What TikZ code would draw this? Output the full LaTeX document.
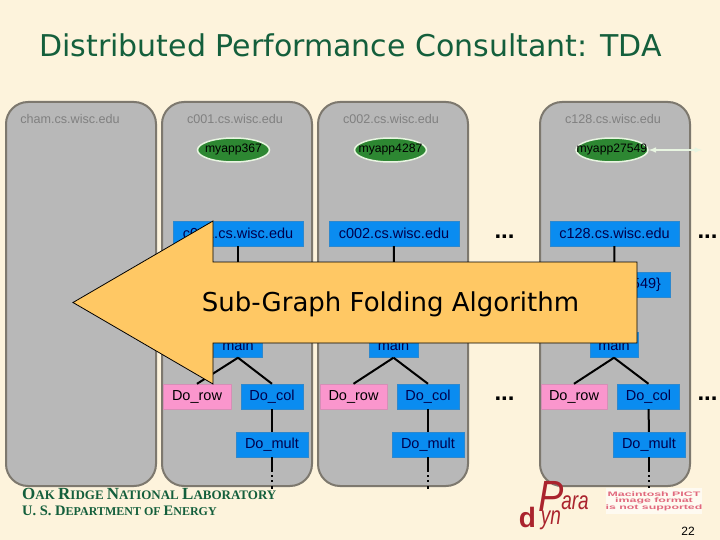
\documentclass[tikz,border=0pt]{standalone}
\usepackage{fontspec}
\setmainfont{Liberation Sans}
\newfontfamily\titlefont{DejaVu Sans}
\newfontfamily\labfont{Liberation Serif}
\usepackage{xcolor}
\usetikzlibrary{arrows}
\usetikzlibrary{math}
\usetikzlibrary{shapes.geometric}
\definecolor{qpaper}{RGB}{253,243,220}
\definecolor{qpanel}{RGB}{184,184,184}
\definecolor{qedge}{RGB}{125,120,110}
\definecolor{qblue}{RGB}{10,140,240}
\definecolor{qpink}{RGB}{250,150,205}
\definecolor{qgreen}{RGB}{45,135,50}
\definecolor{qpale}{RGB}{232,245,225}
\definecolor{qorange}{RGB}{255,200,100}
\definecolor{qlab}{RGB}{20,95,60}
\definecolor{qlogo}{RGB}{170,35,45}
\definecolor{qpict}{RGB}{225,105,125}
\tikzset{
panelbox/.style={draw=qedge, fill=qpanel, line width=2pt, rounded corners=22pt},
hostname/.style={text=gray, font=\fontsize{12.6}{13}\selectfont},
procoval/.style={ellipse, draw=qpale, fill=qgreen, line width=1.5pt, minimum width=72pt, minimum height=24pt, inner sep=0pt, font=\fontsize{12.2}{13}\selectfont},
funcbox/.style={fill=qblue, draw=qblue!70!gray, inner sep=0pt, minimum height=25pt, text=blue!30!black, font=\fontsize{14.5}{15}\selectfont},
rowbox/.style={fill=qpink, draw=qpink!70!gray, inner sep=0pt, minimum height=25pt, text=black, font=\fontsize{14.5}{15}\selectfont},
link/.style={line width=2pt},
moredots/.style={anchor=base, font=\bfseries\fontsize{24}{24}\selectfont},
labtext/.style={text=qlab, anchor=west, inner sep=0pt, font=\labfont\bfseries},
logotext/.style={text=qlogo, inner sep=0pt, font=\itshape},
}
\begin{document}
\begin{tikzpicture}[x=1pt,y=-1pt]
\tikzmath{
\T=102; \B=486;
\H=233.5; \P=150; \M=345; \R=396.5; \U=444.5;
}
\useasboundingbox (0,0) rectangle (720,540);
\fill[qpaper] (0,0) rectangle (720,540);

\node[font=\titlefont\fontsize{30}{30}\selectfont, text=qlab] (title) at (350.5,45) {Distributed Performance Consultant: TDA};

\draw[panelbox] (6,\T) rectangle (156,\B);
\draw[panelbox] (162,\T) rectangle (312,\B);
\draw[panelbox] (318,\T) rectangle (468,\B);
\draw[panelbox] (540,\T) rectangle (690,\B);

\node[hostname] (host0) at (70,119) {cham.cs.wisc.edu};
\node[hostname] (host1) at (235,119) {c001.cs.wisc.edu};
\node[hostname] (host2) at (391,119) {c002.cs.wisc.edu};
\node[hostname] (host3) at (613,119) {c128.cs.wisc.edu};

\node[procoval] (proc1) at (233.5,\P) {\makebox[0pt]{myapp367}};
\node[procoval] (proc2) at (390.5,\P) {\makebox[0pt]{myapp4287}};
\node[procoval] (proc3) at (612,\P) {\makebox[0pt]{myapp27549}};
\coordinate (procend) at (702,\P);
\draw[latex-latex, draw=qpale, line width=1.5pt] (proc3) -- (procend);

\node[funcbox, minimum width=130pt] (mach1) at (238,\H) {c001.cs.wisc.edu};
\node[funcbox, minimum width=130pt] (mach2) at (394,\H) {c002.cs.wisc.edu};
\node[funcbox, minimum width=129pt] (mach3) at (614.5,\H) {c128.cs.wisc.edu};

\node[funcbox, minimum width=50pt, text width=32pt, align=right] (set3) at (645,284.5) {549\}};

\node[funcbox, minimum width=49pt] (main1) at (238,345) {main};
\node[funcbox, minimum width=49pt] (main2) at (393.5,345) {main};
\node[funcbox, minimum width=48pt] (main3) at (614,345) {main};

\node[rowbox, minimum width=68pt] (row1) at (197,\R) {Do\_row};
\node[rowbox, minimum width=67pt] (row2) at (353.5,\R) {Do\_row};
\node[rowbox, minimum width=66pt] (row3) at (574,\R) {Do\_row};
\node[funcbox, minimum width=62pt] (col1) at (272,\R) {Do\_col};
\node[funcbox, minimum width=62pt] (col2) at (428,\R) {Do\_col};
\node[funcbox, minimum width=62pt] (col3) at (648.5,\R) {Do\_col};
\node[funcbox, minimum width=72pt] (mult1) at (272,\U) {Do\_mult};
\node[funcbox, minimum width=72pt] (mult2) at (428,\U) {Do\_mult};
\node[funcbox, minimum width=72pt] (mult3) at (649,\U) {Do\_mult};

\draw[link] (mach1) -- (main1);
\draw[link] (mach2) -- (main2);
\draw[link] (mach3) -- (main3);
\draw[link] (main1.south) -- (row1.north);
\draw[link] (main1.south) -- (col1.north);
\draw[link] (main2.south) -- (row2.north);
\draw[link] (main2.south) -- (col2.north);
\draw[link] (main3.south) -- (row3.north);
\draw[link] (main3.south) -- (col3.north);
\draw[link] (col1) -- (mult1);
\draw[link] (col2) -- (mult2);
\draw[link] (col3) -- (mult3);

\coordinate (tail1) at (272,492);
\coordinate (tail2) at (428,492);
\coordinate (tail3) at (649,492);
\draw[link, dash pattern=on 15pt off 3pt on 2pt off 3pt on 2pt off 4pt on 3pt] (mult1.south) -- (tail1);
\draw[link, dash pattern=on 15pt off 3pt on 2pt off 3pt on 2pt off 4pt on 3pt] (mult2.south) -- (tail2);
\draw[link, dash pattern=on 15pt off 3pt on 2pt off 3pt on 2pt off 4pt on 3pt] (mult3.south) -- (tail3);

\node[moredots] (more1) at (504.5,238.5) {...};
\node[moredots] (more2) at (707.5,238.5) {...};
\node[moredots] (more3) at (504.5,400.5) {...};
\node[moredots] (more4) at (707.5,400.5) {...};

% the big arrow lies over the trees
\draw[fill=qorange, draw=black, line width=0.8pt] (73,302.5) -- (213,221) -- (213,262) -- (637,262) -- (637,343) -- (213,343) -- (213,384) -- cycle;
\node[font=\titlefont\fontsize{26}{26}\selectfont] (fold) at (390.5,304) {Sub-Graph Folding Algorithm};

\node[labtext] (lab) at (22,494) {\fontsize{17}{17}\selectfont O\fontsize{13}{13}\selectfont AK \fontsize{17}{17}\selectfont R\fontsize{13}{13}\selectfont IDGE \fontsize{17}{17}\selectfont N\fontsize{13}{13}\selectfont ATIONAL \fontsize{17}{17}\selectfont L\fontsize{13}{13}\selectfont ABORATORY};
\node[labtext] (dept) at (22,511) {\fontsize{14.5}{15}\selectfont U. S. D\fontsize{12}{12}\selectfont EPARTMENT OF \fontsize{14.5}{15}\selectfont E\fontsize{12}{12}\selectfont NERGY};

\node[logotext, font=\itshape\fontsize{38}{38}\selectfont, yscale=1.15, transform shape] (logop) at (551,496) {P};
\node[logotext, font=\itshape\fontsize{19}{19}\selectfont, yscale=1.35, transform shape] (logoara) at (575,503) {ara};
\node[logotext, font=\bfseries\fontsize{28}{28}\selectfont] (logod) at (527.5,517) {d};
\node[logotext, font=\itshape\fontsize{19}{19}\selectfont, yscale=1.35, transform shape] (logoyn) at (551,520) {yn};

\fill[qpaper!40!white] (606,488) rectangle (702,514);
\node[text=qpict, inner sep=0pt, align=center, font=\bfseries\fontsize{6.5}{6}\selectfont, xscale=1.9, transform shape] (pict) at (654,501) {Macintosh PICT\\image format\\is not supported};

\node[font=\fontsize{12}{12}\selectfont] (page) at (688,531) {22};

\end{tikzpicture}
\end{document}
